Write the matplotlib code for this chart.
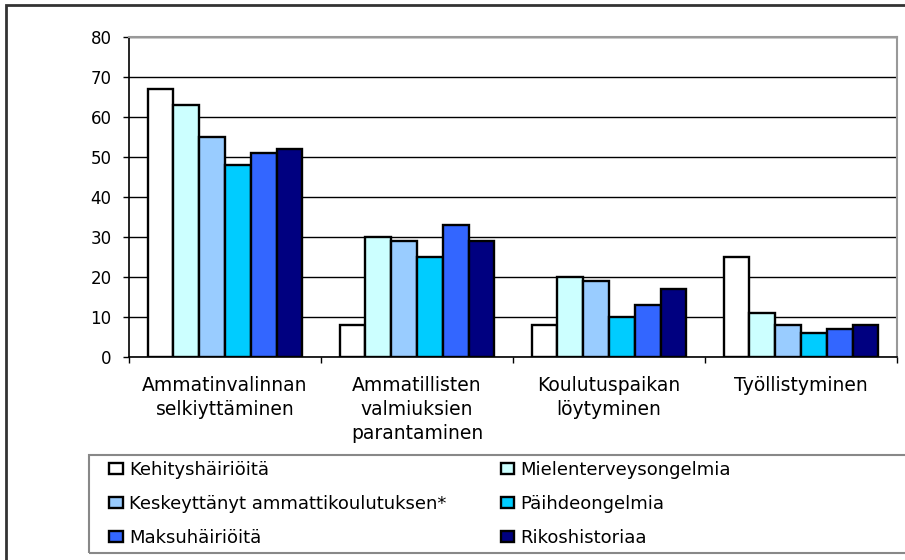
import matplotlib
matplotlib.use("Agg")
import matplotlib.pyplot as plt
import numpy as np
from matplotlib.patches import Rectangle

# data
categories = ["Ammatinvalinnan\nselkiyttäminen",
              "Ammatillisten\nvalmiuksien\nparantaminen",
              "Koulutuspaikan\nlöytyminen",
              "Työllistyminen"]
series_names = ["Kehityshäiriöitä", "Mielenterveysongelmia",
                "Keskeyttänyt ammattikoulutuksen*", "Päihdeongelmia",
                "Maksuhäiriöitä", "Rikoshistoriaa"]
kehitys = [67, 8, 8, 25]
mielenterveys = [63, 30, 20, 11]
keskeyttanyt = [55, 29, 19, 8]
paihde = [48, 25, 10, 6]
maksu = [51, 33, 13, 7]
rikos = [52, 29, 17, 8]
colors = ["#FFFFFF", "#CCFFFF", "#99CCFF", "#00CCFF", "#3366FF", "#000080"]

plt.rcParams['font.family'] = ['DejaVu Sans']

fig = plt.figure(figsize=(9.05, 5.6), dpi=100)
ax = fig.add_axes([129/905, 1-357/560, (897-129)/905, 320/560])

values = [kehitys, mielenterveys, keskeyttanyt, paihde, maksu, rikos]
x = np.arange(len(categories))
w = 0.1345
for i, (vals, name, c) in enumerate(zip(values, series_names, colors)):
    ax.bar(x + (i - 2.5)*w, vals, w, color=c, edgecolor="black",
           linewidth=1.7, label=name, zorder=3)

ax.set_xlim(-0.5, 3.5)
ax.set_ylim(0, 80)
ax.set_yticks(range(0, 81, 10))
ax.yaxis.grid(True, color="black", linewidth=1.0, zorder=0)
ax.tick_params(axis="y", direction="out", length=4.5, width=1, pad=8, labelsize=12)

ax.set_xticks(x)
ax.set_xticklabels(categories, fontsize=13.5, linespacing=1.32)
ax.set_xticks(np.arange(-0.5, 4.0, 1), minor=True)
ax.tick_params(axis="x", which="major", length=0, pad=14)
ax.tick_params(axis="x", which="minor", length=4.5, width=1)

for s in ["left", "bottom"]:
    ax.spines[s].set_color("black")
    ax.spines[s].set_linewidth(1.2)
for s in ["right", "top"]:
    ax.spines[s].set_color("#999999")
    ax.spines[s].set_linewidth(1.5)

# outer chart border
fig.patches.append(Rectangle((6/905, -0.05), 1.2, 1 - 5/560 + 0.05,
                             transform=fig.transFigure, fill=False,
                             edgecolor="#333333", linewidth=2))
# legend frame
fig.patches.append(Rectangle((89/905, 1-553/560), 1.0, (553-455)/560,
                             transform=fig.transFigure, fill=False,
                             edgecolor="#888888", linewidth=1.5))
handles, labels = ax.get_legend_handles_labels()
order = [0, 2, 4, 1, 3, 5]
fig.legend([handles[i] for i in order], [labels[i] for i in order],
           ncol=2, loc="upper left", bbox_to_anchor=(93/905, 1-445/560),
           frameon=False, fontsize=13, handlelength=0.75, handleheight=0.55,
           handletextpad=0.35, labelspacing=0.88, columnspacing=3.0)

fig.savefig("out.png", dpi=100)
